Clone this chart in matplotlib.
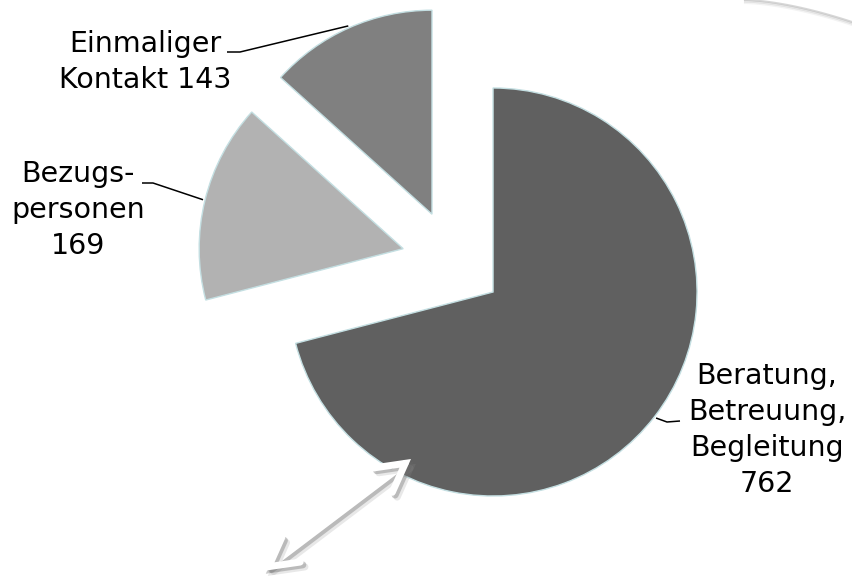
import numpy as np
import matplotlib
matplotlib.use("Agg")
import matplotlib.pyplot as plt
import matplotlib.patheffects as pe
from matplotlib.patches import FancyArrowPatch

# Daten
kategorien = ["Beratung,\nBetreuung,\nBegleitung\n762", "Bezugs-\npersonen\n169", "Einmaliger\nKontakt 143"]
werte = [762, 169, 143]
farben = ["#606060", "#b2b2b2", "#808080"]

W, H = 852, 578
R_PX = 204.0                 # Radius in Pixel
CX, CY = 452.7, 260.8        # Mittelpunkt (Pixel, von oben)


def px(x, y):
    """Pixelkoordinaten (von oben links) -> Datenkoordinaten"""
    return (x - CX) / R_PX, -(y - CY) / R_PX


fig = plt.figure(figsize=(W / 100, H / 100), dpi=100)
ax = fig.add_axes([0, 0, 1, 1])

explode = [0.25] * len(werte)
wedges, _ = ax.pie(werte, startangle=90, counterclock=False, explode=explode,
                   colors=farben, radius=1.0, center=(0, 0),
                   wedgeprops=dict(edgecolor="#c4dfe2", linewidth=1.0))

x0, y0 = px(0, H)
x1, y1 = px(W, 0)
ax.set_xlim(x0, x1)
ax.set_ylim(y0, y1)
ax.set_aspect("auto")
ax.axis("off")

# Beschriftungen mit Führungslinien (Position, Knick, Ende in Pixel)
label_pos = [(767, 430), (78, 210), (145, 62)]
knick = [(667, 422), (153, 183), (240, 52)]
ende = [(680, 421), (142, 183), (227, 52)]

for w, text, lp, kn, en in zip(wedges, kategorien, label_pos, knick, ende):
    mid = np.deg2rad((w.theta1 + w.theta2) / 2)
    cx, cy = w.center
    ax_, ay_ = cx + 1.01 * np.cos(mid), cy + 1.01 * np.sin(mid)
    kx, ky = px(*kn)
    ex, ey = px(*en)
    ax.plot([ax_, kx, ex], [ay_, ky, ey], color="black", lw=1.1,
            solid_capstyle="butt")
    tx, ty = px(*lp)
    ax.text(tx, ty, text, ha="center", va="center", fontsize=20.5,
            family="DejaVu Sans", color="black", linespacing=1.36)

# weißer Doppelpfeil mit Schatten
pfeil = FancyArrowPatch(px(263, 571), px(411, 459),
                        arrowstyle="<->,head_length=1.0,head_width=0.55",
                        mutation_scale=20, color="white", lw=5.0,
                        shrinkA=0, shrinkB=0,
                        capstyle="round", joinstyle="miter")
pfeil.set_path_effects([pe.SimpleLineShadow(offset=(3.5, -3.5), shadow_color="0.55", alpha=0.2),
                        pe.SimpleLineShadow(offset=(2, -2), shadow_color="0.4", alpha=0.35),
                        pe.Normal()])
ax.add_patch(pfeil)

# dekorative Kurve oben rechts
t = np.linspace(0, 1, 60)
kx = 745 + 107 * t
ky = 0 + 22 * t ** 1.6
for off, a in [(0, 0.35), (1.5, 0.2), (3, 0.1)]:
    xs, ys = px(kx, ky + off)
    ax.plot(xs, ys, color="0.55", lw=1.5, alpha=a)

fig.savefig("out.png", dpi=100, facecolor="white")
